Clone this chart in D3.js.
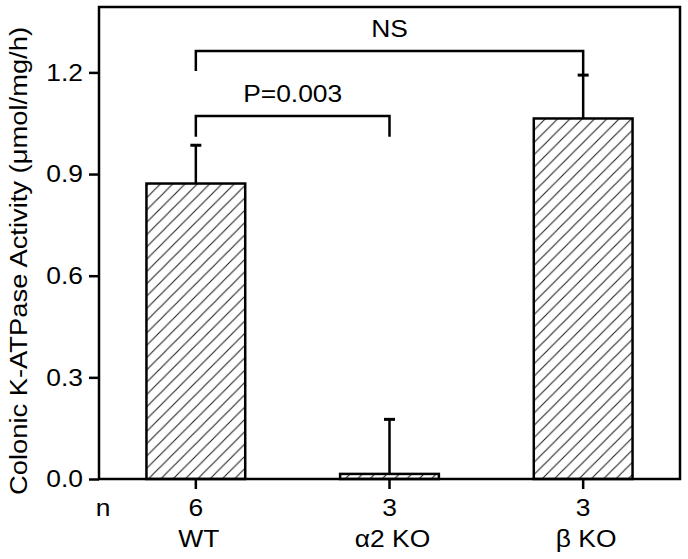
<!DOCTYPE html>
<html>
<head>
<meta charset="utf-8">
<script src="https://cdn.jsdelivr.net/npm/d3@7/dist/d3.min.js"></script>
<style>
  body { margin: 0; background: #fff; }
  svg { display: block; }
  text { font-family: "Liberation Sans", Arial, sans-serif; font-size: 24px; fill: #000; }
</style>
</head>
<body>
<div class="graphic"></div>
<script>
// values
var categories = ["WT", "\u03b12 KO", "\u03b2 KO"];
var nValues = [6, 3, 3];
var means = [0.872, 0.015, 1.064];
var errors = [0.113, 0.161, 0.128];
var yTicks = [0.0, 0.3, 0.6, 0.9, 1.2];

// significance brackets: from / to category index, bar height and leg ends (data units)
var brackets = [
  { from: 0, to: 1, level: 1.071, leftEnd: 1.010, rightEnd: 1.010, label: "P=0.003" },
  { from: 0, to: 2, level: 1.263, leftEnd: 1.204, rightEnd: 1.192, label: "NS" }
];

var width = 688, height = 559;
var margin = { top: 7, right: 8, bottom: 80, left: 99 };
var stretch = 1.1; // the original lettering is a bit wider than Arial

var svg = d3.select(".graphic").append("svg")
  .attr("width", width)
  .attr("height", height);

var defs = svg.append("defs");
var hs = 12.3;
defs.append("pattern")
  .attr("id", "hatch")
  .attr("patternUnits", "userSpaceOnUse")
  .attr("width", hs)
  .attr("height", hs)
  .append("path")
  .attr("d", "M0," + hs + "L" + hs + ",0 M-3,3L3,-3 M" + (hs - 3) + "," + (hs + 3) + "L" + (hs + 3) + "," + (hs - 3))
  .attr("stroke", "#222")
  .attr("stroke-width", 1.1);

var x = d3.scaleBand()
  .domain(categories)
  .range([margin.left, width - margin.right])
  .paddingInner(0.49)
  .paddingOuter(0.245);

var y = d3.scaleLinear()
  .domain([0, 1.393])
  .range([height - margin.bottom, margin.top]);

var cx = function(i) { return x(categories[i]) + x.bandwidth() / 2; };

// bars
svg.append("g").selectAll("rect")
  .data(means)
  .enter()
  .append("rect")
  .attr("x", function(d, i) { return x(categories[i]); })
  .attr("y", function(d) { return y(d); })
  .attr("width", x.bandwidth())
  .attr("height", function(d) { return y(0) - y(d); })
  .attr("fill", "url(#hatch)")
  .attr("stroke", "#000")
  .attr("stroke-width", 2.5);

// error bars (upper only)
var err = svg.append("g").attr("stroke", "#000").attr("stroke-width", 2.5);
err.selectAll("line.stem")
  .data(means)
  .enter()
  .append("line")
  .attr("class", "stem")
  .attr("x1", function(d, i) { return cx(i); })
  .attr("x2", function(d, i) { return cx(i); })
  .attr("y1", function(d) { return y(d); })
  .attr("y2", function(d, i) { return y(d + errors[i]); });
err.selectAll("line.cap")
  .data(means)
  .enter()
  .append("line")
  .attr("class", "cap")
  .attr("stroke-width", 3)
  .attr("x1", function(d, i) { return cx(i) - 5.5; })
  .attr("x2", function(d, i) { return cx(i) + 5.5; })
  .attr("y1", function(d, i) { return y(d + errors[i]); })
  .attr("y2", function(d, i) { return y(d + errors[i]); });

// brackets
var br = svg.append("g");
br.selectAll("path")
  .data(brackets)
  .enter()
  .append("path")
  .attr("fill", "none")
  .attr("stroke", "#000")
  .attr("stroke-width", 2.5)
  .attr("d", function(d) {
    return "M" + cx(d.from) + "," + y(d.leftEnd) +
      "V" + y(d.level) +
      "H" + cx(d.to) +
      "V" + y(d.rightEnd);
  });
br.selectAll("text")
  .data(brackets)
  .enter()
  .append("text")
  .attr("text-anchor", "middle")
  .attr("transform", function(d) {
    return "translate(" + ((cx(d.from) + cx(d.to)) / 2) + "," + (y(d.level) - 14) + ") scale(" + stretch + ",1)";
  })
  .text(function(d) { return d.label; });

// y axis
var yAxis = svg.append("g")
  .attr("transform", "translate(" + margin.left + ",0)")
  .call(d3.axisLeft(y).tickValues(yTicks).tickFormat(d3.format(".1f")).tickSize(10).tickPadding(6));
yAxis.select(".domain").remove();
yAxis.selectAll(".tick line").attr("stroke", "#000").attr("stroke-width", 2.5);
yAxis.selectAll(".tick text")
  .attr("font-size", null)
  .attr("font-family", null)
  .attr("x", -16 / stretch)
  .attr("transform", "scale(" + stretch + ",1)");

// x axis ticks
var xAxis = svg.append("g")
  .attr("transform", "translate(0," + y(0) + ")")
  .call(d3.axisBottom(x).tickSize(10).tickFormat(""));
xAxis.select(".domain").remove();
xAxis.selectAll(".tick line").attr("stroke", "#000").attr("stroke-width", 2.5);

// frame
svg.append("rect")
  .attr("x", margin.left)
  .attr("y", margin.top)
  .attr("width", width - margin.left - margin.right)
  .attr("height", y(0) - margin.top)
  .attr("fill", "none")
  .attr("stroke", "#000")
  .attr("stroke-width", 2.5);

// n row and category names
var labels = svg.append("g").attr("text-anchor", "middle");
labels.append("text")
  .attr("transform", "translate(" + (margin.left + 4) + "," + (y(0) + 37) + ") scale(" + stretch + ",1)")
  .text("n");
labels.selectAll("text.n")
  .data(nValues)
  .enter()
  .append("text")
  .attr("class", "n")
  .attr("transform", function(d, i) { return "translate(" + cx(i) + "," + (y(0) + 37) + ") scale(" + stretch + ",1)"; })
  .text(function(d) { return d; });
labels.selectAll("text.cat")
  .data(categories)
  .enter()
  .append("text")
  .attr("class", "cat")
  .attr("transform", function(d, i) { return "translate(" + (cx(i) + 3) + "," + (y(0) + 68) + ") scale(" + stretch + ",1)"; })
  .text(function(d) { return d; });

// y title
svg.append("text")
  .attr("text-anchor", "middle")
  .attr("transform", "translate(27," + 261 + ") rotate(-90) scale(1.14,1)")
  .text("Colonic K-ATPase Activity (\u03bcmol/mg/h)");
</script>
</body>
</html>
